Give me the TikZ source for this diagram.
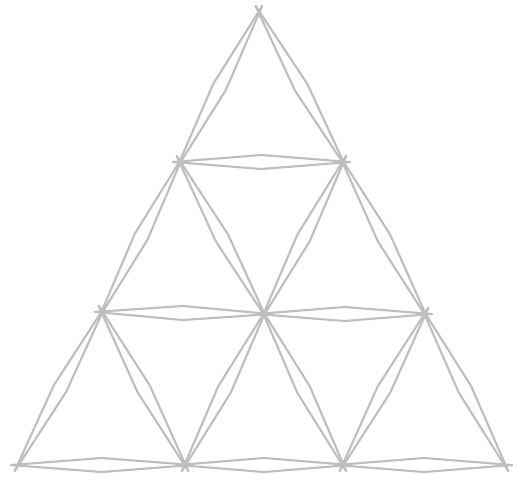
\documentclass[tikz,border=0pt]{standalone}
\usetikzlibrary{calc}
\definecolor{sketch}{RGB}{190,190,190}
\tikzset{lensline/.style={draw=sketch,line width=2.1pt,line join=round,line cap=round}}
\newcommand{\lensedge}[2]{%
  \draw[lensline] ($(#1)!-7pt!(#2)$) -- ($(#1)!0.5!(#2)!7pt!90:(#2)$) -- ($(#2)!-7pt!(#1)$);
  \draw[lensline] ($(#1)!-7pt!(#2)$) -- ($(#1)!0.5!(#2)!7pt!-90:(#2)$) -- ($(#2)!-7pt!(#1)$);
}
\begin{document}
\begin{tikzpicture}[x=1pt,y=-1pt]
\useasboundingbox (0,0) rectangle (517,480);
\coordinate (A) at (259,12);
\coordinate (B1) at (180,162);
\coordinate (B2) at (343,162);
\coordinate (C1) at (102,312);
\coordinate (C2) at (264,314);
\coordinate (C3) at (425,314);
\coordinate (D1) at (18,465);
\coordinate (D2) at (185,465);
\coordinate (D3) at (343,465);
\coordinate (D4) at (505,465);
% horizontal
\lensedge{B1}{B2}
\lensedge{C1}{C2}
\lensedge{C2}{C3}
\lensedge{D1}{D2}
\lensedge{D2}{D3}
\lensedge{D3}{D4}
% left-leaning
\lensedge{A}{B1}
\lensedge{B1}{C1}
\lensedge{C1}{D1}
\lensedge{B2}{C2}
\lensedge{C2}{D2}
\lensedge{C3}{D3}
% right-leaning
\lensedge{A}{B2}
\lensedge{B2}{C3}
\lensedge{C3}{D4}
\lensedge{B1}{C2}
\lensedge{C2}{D3}
\lensedge{C1}{D2}
\end{tikzpicture}
\end{document}
